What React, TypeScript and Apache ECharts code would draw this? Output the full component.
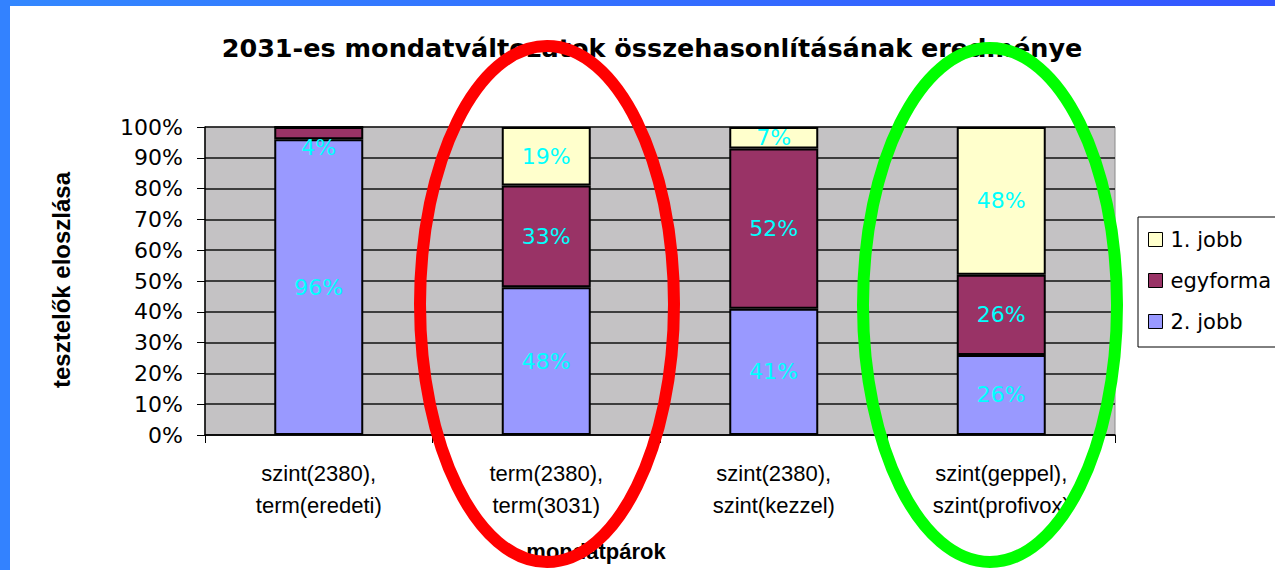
import React, { useEffect, useRef } from "react";
import * as echarts from "echarts";

const categories = [
  "szint(2380),\nterm(eredeti)",
  "term(2380),\nterm(3031)",
  "szint(2380),\nszint(kezzel)",
  "szint(geppel),\nszint(profivox)",
];
const masodikJobb = [96, 48, 41, 26];
const egyforma = [4, 33, 52, 26];
const elsoJobb = [0, 19, 7, 48];
const yTicks = [0, 10, 20, 30, 40, 50, 60, 70, 80, 90, 100];

const titleText = "2031-es mondatváltozatok összehasonlításának eredménye";
const yName = "tesztelők eloszlása";
const xName = "mondatpárok";

export default function App() {
  const ref = useRef<HTMLDivElement>(null);
  useEffect(() => {
    if (!ref.current) return;
    const chart = echarts.init(ref.current, null, { renderer: "svg" });
    const labelCfg = {
      show: true,
      position: "inside",
      color: "#00FFFF",
      fontFamily: "DejaVu Sans",
      fontSize: 22,
      formatter: (p: any) => (p.value > 0 ? p.value + "%" : ""),
    };
    const mk = (arr: number[]) =>
      arr.map((v) => (v > 0 && v < 5 ? { value: v, label: { offset: [0, 14] } } : { value: v }));
    const barBase = {
      type: "bar",
      stack: "total",
      barWidth: 89,
      label: labelCfg,
    };
    chart.setOption({
      animation: false,
      backgroundColor: "#ffffff",
      grid: {
        left: 205,
        top: 127,
        right: 160,
        bottom: 135,
        show: true,
        backgroundColor: "#C4C2C4",
        borderColor: "#8a8a8a",
        borderWidth: 1,
      },
      legend: {
        orient: "vertical",
        left: 1138,
        top: 217,
        data: ["1. jobb", "egyforma", "2. jobb"],
        backgroundColor: "#ffffff",
        borderColor: "#000",
        borderWidth: 1,
        borderRadius: 0,
        padding: [12, 40, 15, 10],
        itemGap: 20,
        itemWidth: 14,
        itemHeight: 14,
        icon: "rect",
        itemStyle: { borderColor: "#000", borderWidth: 1 },
        textStyle: {
          fontFamily: "DejaVu Sans",
          fontSize: 21,
          color: "#000",
          lineHeight: 14,
          padding: [0, 0, 0, 3],
        },
      },
      xAxis: {
        type: "category",
        data: categories,
        axisLine: { lineStyle: { color: "#000", width: 1.5 } },
        axisTick: { show: true, length: 8, lineStyle: { color: "#000" } },
        axisLabel: {
          fontFamily: "Liberation Sans",
          fontSize: 22,
          lineHeight: 32,
          color: "#000",
          margin: 22,
        },
      },
      yAxis: {
        type: "value",
        min: yTicks[0],
        max: yTicks[yTicks.length - 1],
        interval: 10,
        axisLine: { show: true, lineStyle: { color: "#000", width: 1.5 } },
        axisTick: { show: true, length: 8, lineStyle: { color: "#000" } },
        splitLine: { show: true, lineStyle: { color: "#111", width: 1.5 } },
        axisLabel: {
          formatter: "{value}%",
          fontFamily: "DejaVu Sans",
          fontSize: 22,
          color: "#000",
          margin: 22,
        },
      },
      series: [
        {
          ...barBase,
          name: "2. jobb",
          data: mk(masodikJobb),
          itemStyle: { color: "#9999FF", borderColor: "#000", borderWidth: 2 },
        },
        {
          ...barBase,
          name: "egyforma",
          data: mk(egyforma),
          itemStyle: { color: "#993366", borderColor: "#000", borderWidth: 2 },
        },
        {
          ...barBase,
          name: "1. jobb",
          data: mk(elsoJobb),
          itemStyle: { color: "#FFFFCC", borderColor: "#000", borderWidth: 2 },
        },
      ],
      graphic: [
        {
          type: "rect",
          shape: { x: 0, y: 0, width: 1275, height: 6 },
          style: {
            fill: new echarts.graphic.LinearGradient(0, 0, 1, 0, [
              { offset: 0, color: "#3388FF" },
              { offset: 1, color: "#3355FF" },
            ]),
          },
          z: 50,
        },
        {
          type: "rect",
          shape: { x: 0, y: 0, width: 10, height: 570 },
          style: { fill: "#3382FF" },
          z: 50,
        },
        {
          type: "text",
          x: 652,
          y: 48,
          style: {
            text: titleText,
            font: "bold 25.5px 'DejaVu Sans'",
            fill: "#000",
            textAlign: "center",
            textVerticalAlign: "middle",
          },
          z: 10,
        },
        {
          type: "text",
          x: 61,
          y: 280,
          rotation: Math.PI / 2,
          style: {
            text: yName,
            font: "bold 24px 'Liberation Sans'",
            fill: "#000",
            textAlign: "center",
            textVerticalAlign: "middle",
          },
          z: 10,
        },
        {
          type: "text",
          x: 596,
          y: 551,
          style: {
            text: xName,
            font: "bold 22px 'Liberation Sans'",
            fill: "#000",
            textAlign: "center",
            textVerticalAlign: "middle",
          },
          z: 10,
        },
        {
          type: "ellipse",
          shape: { cx: 547, cy: 304, rx: 127, ry: 258 },
          style: { fill: "none", stroke: "#FF0000", lineWidth: 12 },
          z: 100,
        },
        {
          type: "ellipse",
          shape: { cx: 990, cy: 305, rx: 127, ry: 257 },
          style: { fill: "none", stroke: "#00FF00", lineWidth: 12 },
          z: 100,
        },
      ],
    });
    return () => chart.dispose();
  }, []);
  return (
    <div
      ref={ref}
      style={{ position: "absolute", left: 0, top: 0, width: 1275, height: 570, background: "#fff" }}
    />
  );
}
